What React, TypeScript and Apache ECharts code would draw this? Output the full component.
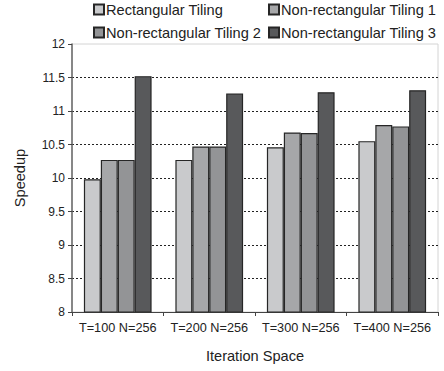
import React, { useEffect, useRef } from "react";
import * as echarts from "echarts";

const categories = ["T=100 N=256", "T=200 N=256", "T=300 N=256", "T=400 N=256"];
const seriesNames = [
  "Rectangular Tiling",
  "Non-rectangular Tiling 1",
  "Non-rectangular Tiling 2",
  "Non-rectangular Tiling 3",
];
const rectangular = [9.98, 10.27, 10.46, 10.55];
const nonRect1 = [10.27, 10.47, 10.68, 10.79];
const nonRect2 = [10.27, 10.47, 10.67, 10.77];
const nonRect3 = [11.52, 11.26, 11.28, 11.31];
const seriesValues = [rectangular, nonRect1, nonRect2, nonRect3];
const colors = ["#c9cacc", "#a6a7a9", "#939496", "#58595b"];
const yTicks = { min: 8, max: 12, interval: 0.5 };

const FONT = "Liberation Sans, Arial, sans-serif";

export default function App() {
  const ref = useRef<HTMLDivElement>(null);
  useEffect(() => {
    if (!ref.current) return;
    const chart = echarts.init(ref.current, null, { renderer: "svg" });
    const legendPos = [
      { left: 93, top: 2 },
      { left: 268, top: 2 },
      { left: 93, top: 25 },
      { left: 268, top: 25 },
    ];
    chart.setOption({
      animation: false,
      textStyle: { fontFamily: FONT },
      legend: seriesNames.map((n, i) => ({
        data: [{ name: n, icon: "rect" }],
        left: legendPos[i].left,
        top: legendPos[i].top,
        padding: 0,
        itemWidth: 10,
        itemHeight: 10,
        itemGap: 0,
        selectedMode: false,
        textStyle: { fontSize: 14.6, color: "#222", fontFamily: FONT, padding: [0, 0, 0, -3] },
      })),
      grid: {
        left: 72,
        right: 6,
        top: 44,
        bottom: 59,
        show: true,
        borderColor: "#d4d4d4",
        borderWidth: 1,
        backgroundColor: "transparent",
      },
      xAxis: {
        type: "category",
        data: categories,
        name: "Iteration Space",
        nameLocation: "middle",
        nameGap: 36,
        nameTextStyle: { fontSize: 14.6, color: "#222", fontFamily: FONT },
        axisLine: { lineStyle: { color: "#444", width: 1 } },
        axisTick: { show: true, length: 4, interval: 0, lineStyle: { color: "#444" } },
        axisLabel: { fontSize: 12.7, color: "#222", margin: 9, interval: 0, fontFamily: FONT },
        splitLine: { show: false },
      },
      yAxis: {
        type: "value",
        min: yTicks.min,
        max: yTicks.max,
        interval: yTicks.interval,
        name: "Speedup",
        nameLocation: "middle",
        nameGap: 45,
        nameTextStyle: { fontSize: 14.6, color: "#222", fontFamily: FONT },
        axisLine: { show: true, lineStyle: { color: "#666", width: 1.5 } },
        axisTick: { show: true, length: 4, lineStyle: { color: "#444" } },
        axisLabel: { fontSize: 12, color: "#222", margin: 7, fontFamily: FONT },
        splitLine: {
          show: true,
          showMinLine: false,
          showMaxLine: false,
          lineStyle: { color: "#222", type: [2, 2], width: 1 },
        },
      },
      series: seriesNames.map((n, i) => ({
        name: n,
        type: "bar",
        data: seriesValues[i],
        barGap: "0%",
        barCategoryGap: "26%",
        itemStyle: { color: colors[i], borderColor: "#262626", borderWidth: 1.2 },
      })),
    });
    return () => chart.dispose();
  }, []);
  return <div ref={ref} style={{ width: 444, height: 371, position: "absolute", left: 0, top: 0 }} />;
}
